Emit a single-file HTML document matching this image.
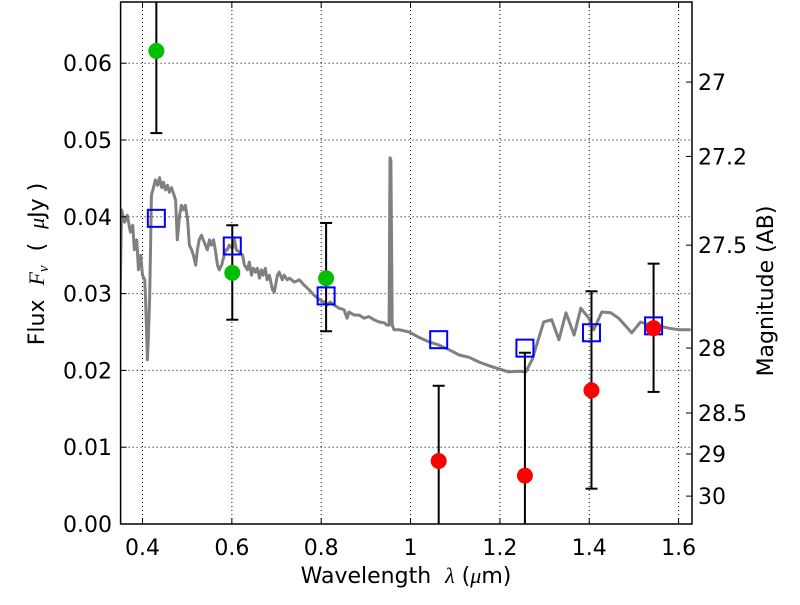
<!DOCTYPE html>
<html><head><meta charset="utf-8"><style>
body{margin:0;background:#fff;}
svg text{font-family:"DejaVu Sans","Liberation Sans",sans-serif;fill:#000;}
</style></head><body>
<svg id="chart" width="800" height="600" xmlns="http://www.w3.org/2000/svg">
<g id="grid"></g>
<g id="plot"></g>
<g id="axes"></g>
</svg>
<script>
const specWave=[0.349,0.353,0.360,0.366,0.373,0.378,0.382,0.387,0.391,0.396,0.400,0.405,0.407,0.411,0.413,0.416,0.418,0.420,0.425,0.429,0.434,0.438,0.443,0.447,0.451,0.456,0.460,0.465,0.469,0.474,0.478,0.483,0.487,0.492,0.496,0.501,0.505,0.510,0.514,0.519,0.523,0.527,0.532,0.536,0.541,0.545,0.550,0.554,0.559,0.563,0.568,0.572,0.577,0.581,0.586,0.590,0.594,0.601,0.606,0.610,0.617,0.624,0.628,0.635,0.639,0.644,0.648,0.653,0.657,0.662,0.666,0.670,0.675,0.679,0.684,0.691,0.695,0.702,0.706,0.713,0.717,0.724,0.729,0.740,0.751,0.762,0.773,0.784,0.796,0.807,0.813,0.820,0.829,0.840,0.851,0.858,0.862,0.874,0.885,0.896,0.907,0.918,0.930,0.941,0.947,0.952,0.954,0.956,0.959,0.963,0.974,0.997,1.019,1.042,1.064,1.086,1.109,1.131,1.153,1.176,1.198,1.220,1.243,1.258,1.272,1.298,1.316,1.332,1.348,1.366,1.381,1.399,1.410,1.428,1.448,1.466,1.495,1.515,1.537,1.555,1.578,1.600,1.627];
const specFlux=[0.0259,0.0409,0.0393,0.0402,0.0380,0.0389,0.0357,0.0370,0.0331,0.0350,0.0324,0.0318,0.0292,0.0214,0.0240,0.0292,0.0357,0.0428,0.0439,0.0448,0.0441,0.0451,0.0438,0.0445,0.0435,0.0441,0.0432,0.0438,0.0431,0.0422,0.0370,0.0402,0.0415,0.0409,0.0415,0.0396,0.0363,0.0357,0.0350,0.0337,0.0357,0.0370,0.0376,0.0370,0.0363,0.0357,0.0370,0.0363,0.0370,0.0357,0.0337,0.0331,0.0337,0.0346,0.0357,0.0357,0.0363,0.0359,0.0370,0.0357,0.0354,0.0350,0.0337,0.0331,0.0341,0.0324,0.0333,0.0328,0.0333,0.0320,0.0331,0.0324,0.0333,0.0318,0.0324,0.0305,0.0302,0.0324,0.0328,0.0318,0.0324,0.0318,0.0320,0.0315,0.0318,0.0311,0.0305,0.0298,0.0292,0.0289,0.0285,0.0289,0.0285,0.0281,0.0279,0.0268,0.0276,0.0272,0.0272,0.0268,0.0270,0.0266,0.0263,0.0262,0.0259,0.0259,0.0477,0.0474,0.0259,0.0253,0.0253,0.0250,0.0243,0.0237,0.0233,0.0227,0.0220,0.0217,0.0211,0.0206,0.0202,0.0198,0.0199,0.0198,0.0214,0.0263,0.0266,0.0240,0.0275,0.0246,0.0281,0.0268,0.0253,0.0276,0.0275,0.0268,0.0249,0.0263,0.0259,0.0258,0.0255,0.0253,0.0253];
const greenWave=[0.431,0.601,0.811];
const greenFlux=[0.0616,0.0327,0.0320];
const greenLo=[0.0509,0.0266,0.0251];
const greenHi=[0.0725,0.0389,0.0392];
const redWave=[1.063,1.256,1.405,1.544];
const redFlux=[0.0082,0.0063,0.0174,0.0255];
const redLo=[-0.005,-0.005,0.0046,0.0172];
const redHi=[0.0180,0.0223,0.0303,0.0339];
const modelWave=[0.431,0.601,0.811,1.063,1.256,1.405,1.544];
const modelFlux=[0.0398,0.0362,0.0297,0.0240,0.0229,0.0249,0.0258];
const xTicks=[0.4,0.6,0.8,1.0,1.2,1.4,1.6];
const xTickLabels=["0.4","0.6","0.8","1","1.2","1.4","1.6"];
const yTicks=[0,0.01,0.02,0.03,0.04,0.05,0.06];
const yTickLabels=["0.00","0.01","0.02","0.03","0.04","0.05","0.06"];
const magTicks=[27,27.2,27.5,28,28.5,29,30];
const magTickLabels=["27","27.2","27.5","28","28.5","29","30"];

const L=120.6,R=692,T=2,B=524,X0=0.351,X1=1.630,Y0=0,Y1=0.06797;
const sx=v=>L+(v-X0)/(X1-X0)*(R-L);
const sy=v=>B-(v-Y0)/(Y1-Y0)*(B-T);
const magToFlux=m=>Math.pow(10,(23.9-m)/2.5);
const NS="http://www.w3.org/2000/svg";
function mk(tag,attrs,parent){const e=document.createElementNS(NS,tag);for(const k in attrs)e.setAttribute(k,attrs[k]);parent.appendChild(e);return e;}
const grid=document.getElementById('grid'),plot=document.getElementById('plot'),axes=document.getElementById('axes');
const clip=mk('clipPath',{id:'clp'},document.getElementById('chart'));
mk('rect',{x:L,y:T,width:R-L,height:B-T},clip);
plot.setAttribute('clip-path','url(#clp)');

xTicks.forEach((t,i)=>{
  const g=mk('line',{x1:sx(t),x2:sx(t),y1:T,y2:B,stroke:'#000','stroke-width':1,'stroke-dasharray':'1,3'},grid);
  
  
  mk('line',{x1:sx(t),x2:sx(t),y1:B,y2:B-6,stroke:'#000'},axes);
  mk('line',{x1:sx(t),x2:sx(t),y1:T,y2:T+6,stroke:'#000'},axes);
  const tx=mk('text',{x:sx(t),y:B+31,'text-anchor':'middle','font-size':22},axes);
  tx.textContent=xTickLabels[i];
  
  
});
yTicks.forEach((t,i)=>{
  const g=mk('line',{x1:L,x2:R,y1:sy(t),y2:sy(t),stroke:'#000','stroke-width':1,'stroke-dasharray':'1,3'},grid);
  
  
  mk('line',{x1:L,x2:L+6,y1:sy(t),y2:sy(t),stroke:'#000'},axes);
  const tx=mk('text',{x:112,y:sy(t)+8,'text-anchor':'end','font-size':22},axes);
  tx.textContent=yTickLabels[i];
  
  
});
magTicks.forEach((m,i)=>{
  const y=sy(magToFlux(m));
  mk('line',{x1:R,x2:R-6,y1:y,y2:y,stroke:'#000'},axes);
  const tx=mk('text',{x:698,y:y+8,'text-anchor':'start','font-size':22},axes);
  tx.textContent=magTickLabels[i];
  
  
});

const d=specWave.map((w,i)=>(i?'L':'M')+sx(w).toFixed(1)+','+sy(specFlux[i]).toFixed(1)).join('');
const sp=mk('path',{d:d,fill:'none',stroke:'#808080','stroke-width':3,'stroke-linejoin':'round'},plot);



function errbar(w,lo,hi){
  const x=sx(w);
  const e=mk('line',{x1:x,x2:x,y1:sy(lo),y2:sy(hi),stroke:'#000','stroke-width':2},plot);
  
  
  [lo,hi].forEach(v=>mk('line',{x1:x-6,x2:x+6,y1:sy(v),y2:sy(v),stroke:'#000','stroke-width':2},plot));
}
greenWave.forEach((w,i)=>errbar(w,greenLo[i],greenHi[i]));
redWave.forEach((w,i)=>errbar(w,redLo[i],redHi[i]));
modelWave.forEach((w,i)=>{
  const s=mk('rect',{x:sx(w)-8.5,y:sy(modelFlux[i])-8.5,width:17,height:17,fill:'none',stroke:'#0000ff','stroke-width':2},plot);
  
  
});
greenWave.forEach((w,i)=>{
  const c=mk('circle',{cx:sx(w),cy:sy(greenFlux[i]),r:8,fill:'#00bf00'},plot);
  
  
});
redWave.forEach((w,i)=>{
  const c=mk('circle',{cx:sx(w),cy:sy(redFlux[i]),r:8,fill:'#ff0000'},plot);
  
  
});

const fr=mk('rect',{x:L,y:T,width:R-L,height:B-T,fill:'none',stroke:'#000','stroke-width':1.5},axes);



const xl=mk('text',{x:406,y:583,'text-anchor':'middle','font-size':22},axes);
xl.innerHTML='Wavelength&#160;&#160;<tspan font-style="italic" font-family="Liberation Serif">λ</tspan>&#160;(<tspan font-style="italic" font-family="Liberation Serif">μ</tspan>m)';


const yl=mk('text',{x:0,y:0,'text-anchor':'middle','font-size':22,transform:'translate(44,264) rotate(-90)'},axes);
yl.innerHTML='Flux&#160;&#160;<tspan font-style="italic" font-family="Liberation Serif">F<tspan font-size="15" dy="4">ν</tspan></tspan><tspan dy="-4">&#160;&#160;(&#160;&#160;</tspan><tspan font-style="italic" font-family="Liberation Serif">μ</tspan>Jy&#160;)';


const rl=mk('text',{x:0,y:0,'text-anchor':'middle','font-size':22,transform:'translate(773,291) rotate(-90)'},axes);
rl.textContent='Magnitude (AB)';


</script>
</body></html>
